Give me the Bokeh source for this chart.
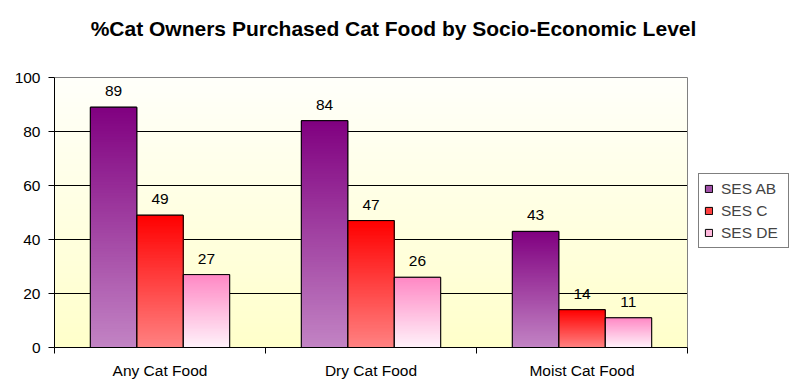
import numpy as np
from bokeh.plotting import figure
from bokeh.models import Range1d, FixedTicker, Legend, LegendItem, ColumnDataSource, Label
from bokeh.core.properties import value
from bokeh.embed import file_html
from bokeh.resources import INLINE

# ---- data ----
categories = ["Any Cat Food", "Dry Cat Food", "Moist Cat Food"]
series = ["SES AB", "SES C", "SES DE"]
ses_ab = [89, 84, 43]
ses_c = [49, 47, 14]
ses_de = [27, 26, 11]
y_ticks = [0, 20, 40, 60, 80, 100]
title_text = "%Cat Owners Purchased Cat Food by Socio-Economic Level"

# ---- layout (pixels) ----
W, H = 790, 392
PLOT_L, PLOT_R, PLOT_T, PLOT_B = 54, 687, 77, 347

# ---- styles ----
grad_top = [(128, 0, 128), (255, 0, 0), (255, 136, 196)]
grad_bot = [(194, 132, 196), (255, 130, 130), (255, 242, 250)]
legend_fill = ["#a050a8", "#ff4040", "#ffb8dc"]
bg_top = (255, 255, 250)
bg_bot = (255, 255, 202)
FONT = "Liberation Sans"
FS = "15.5px"
BAR_W = 0.22
N = 90

values = [ses_ab, ses_c, ses_de]
n_cat = len(categories)
y_max = y_ticks[-1]
x_end = n_cat * (W - PLOT_L) / (PLOT_R - PLOT_L)
y_end = y_max * PLOT_B / (PLOT_B - PLOT_T)


def hexc(c):
    return "#%02x%02x%02x" % tuple(int(round(v)) for v in c)


def mix(a, b, t):
    return tuple(a[i] + (b[i] - a[i]) * t for i in range(3))


p = figure(width=W, height=H, x_range=Range1d(0, x_end), y_range=Range1d(0, y_end),
           output_backend="svg", toolbar_location=None, title=None,
           min_border_left=PLOT_L, min_border_right=0, min_border_top=0,
           min_border_bottom=H - PLOT_B,
           border_fill_color="white", background_fill_color="white")
p.outline_line_color = None

# background gradient (vertical)
bg = dict(left=[], right=[], bottom=[], top=[], color=[])
for k in range(N - 1, -1, -1):
    bg["left"].append(0)
    bg["right"].append(n_cat)
    bg["bottom"].append(0)
    bg["top"].append(y_max * (k + 1) / N)
    bg["color"].append(hexc(mix(bg_bot, bg_top, (k + 0.5) / N)))
r_bg = p.quad(left="left", right="right", bottom="bottom", top="top", fill_color="color",
              line_color=None, source=ColumnDataSource(bg))
r_bg.level = "image"

# grid lines and plot-area border
gy = y_ticks[1:-1]
r_grid = p.segment(x0=[0] * len(gy), x1=[n_cat] * len(gy), y0=gy, y1=gy,
                   line_color="black", line_width=1)
r_grid.level = "underlay"
p.segment(x0=[0, n_cat], x1=[n_cat, n_cat], y0=[y_max, 0], y1=[y_max, y_max],
          line_color="#808080", line_width=1)

# bars
bars = dict(left=[], right=[], bottom=[], top=[], color=[])
outl = dict(left=[], right=[], top=[])
lab = dict(x=[], y=[], text=[])
items = []
for s in range(len(series)):
    off = (s - 1) * BAR_W
    xs = [c + 0.5 + off for c in range(n_cat)]
    # solid bars (legend swatches), fully covered by the gradient below
    r = p.quad(left=[x - BAR_W / 2 for x in xs], right=[x + BAR_W / 2 for x in xs],
               bottom=0, top=values[s], fill_color=legend_fill[s], line_color="black",
               line_width=1)
    items.append(LegendItem(label=series[s], renderers=[r]))
    for c in range(n_cat):
        v = values[s][c]
        xc = xs[c]
        for k in range(N - 1, -1, -1):
            bars["left"].append(xc - BAR_W / 2)
            bars["right"].append(xc + BAR_W / 2)
            bars["bottom"].append(0)
            bars["top"].append(v * (k + 1) / N)
            bars["color"].append(hexc(mix(grad_bot[s], grad_top[s], (k + 0.5) / N)))
        outl["left"].append(xc - BAR_W / 2)
        outl["right"].append(xc + BAR_W / 2)
        outl["top"].append(v)
        lab["x"].append(xc)
        lab["y"].append(v)
        lab["text"].append(str(v))

p.quad(left="left", right="right", bottom="bottom", top="top", fill_color="color",
       line_color=None, source=ColumnDataSource(bars))
p.quad(left="left", right="right", bottom=0, top="top", fill_color=None,
       line_color="black", line_width=1, source=ColumnDataSource(outl))
p.text(x="x", y="y", text="text", source=ColumnDataSource(lab), text_align="center",
       text_baseline="alphabetic", y_offset=-16, text_font=value(FONT),
       text_font_size=FS, text_color="black")

# legend
leg = Legend(items=items, location=(698 - PLOT_L, PLOT_B - 248),
             border_line_color="black", border_line_width=1,
             background_fill_color="white", background_fill_alpha=1,
             label_text_font=FONT, label_text_font_size=FS, glyph_width=9, glyph_height=9,
             label_standoff=8, label_height=19, label_width=62, spacing=3, padding=5, margin=0)
p.add_layout(leg, "center")

# title
p.add_layout(Label(x=393 - PLOT_L, y=PLOT_B - 28, x_units="screen", y_units="screen",
                   text=title_text, text_font=FONT, text_font_size="21px",
                   text_font_style="bold", text_color="black", text_align="center",
                   text_baseline="alphabetic"))

# axes
p.xgrid.visible = False
p.ygrid.visible = False

p.yaxis.ticker = FixedTicker(ticks=y_ticks)
p.yaxis.bounds = (0, y_max)
p.yaxis.axis_line_color = "black"
p.yaxis.major_tick_line_color = "black"
p.yaxis.major_tick_out = 6
p.yaxis.major_tick_in = 0
p.yaxis.minor_tick_line_color = None
p.yaxis.major_label_text_font = FONT
p.yaxis.major_label_text_font_size = FS
p.yaxis.major_label_text_color = "black"
p.yaxis.major_label_standoff = 8

p.xaxis.ticker = FixedTicker(ticks=[c + 0.5 for c in range(n_cat)],
                             minor_ticks=list(range(n_cat + 1)))
p.xaxis.bounds = (0, n_cat)
p.xaxis.major_label_overrides = {c + 0.5: categories[c] for c in range(n_cat)}
p.xaxis.axis_line_color = "black"
p.xaxis.major_tick_out = 0
p.xaxis.major_tick_in = 0
p.xaxis.major_tick_line_color = None
p.xaxis.minor_tick_line_color = "black"
p.xaxis.minor_tick_out = 6
p.xaxis.minor_tick_in = 0
p.xaxis.major_label_text_font = FONT
p.xaxis.major_label_text_font_size = FS
p.xaxis.major_label_text_color = "black"
p.xaxis.major_label_standoff = 8

open("out.html", "w").write(file_html(p, INLINE))
